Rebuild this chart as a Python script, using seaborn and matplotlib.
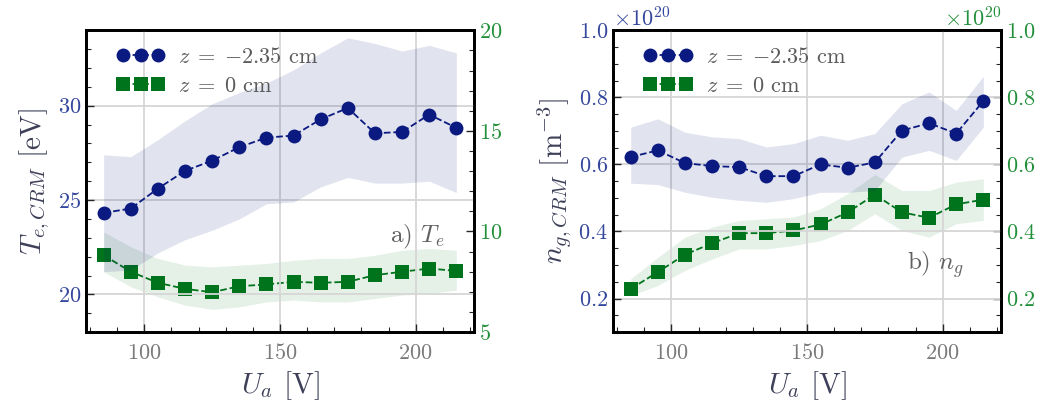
import numpy as np
import matplotlib
matplotlib.use('Agg')
import matplotlib.pyplot as plt
from matplotlib.ticker import MultipleLocator
import seaborn as sns

# anode voltage
Ua = [85, 95, 105, 115, 125, 135, 145, 155, 165, 175, 185, 195, 205, 215]

# a) electron temperature [eV]
te_z235 = [24.32, 24.55, 25.61, 26.55, 27.09, 27.80, 28.31, 28.42, 29.28, 29.88, 28.54, 28.61, 29.53, 28.83]
te_z235_hi = [27.4, 27.3, 28.2, 29.2, 30.1, 30.7, 31.2, 31.9, 32.8, 33.6, 33.3, 32.9, 33.2, 32.8]
te_z235_lo = [21.2, 21.3, 22.2, 22.9, 23.4, 24.0, 24.8, 24.9, 25.7, 26.2, 25.9, 25.9, 26.0, 25.4]
te_z0 = [8.82, 8.00, 7.45, 7.15, 6.98, 7.28, 7.37, 7.50, 7.45, 7.50, 7.83, 8.00, 8.16, 8.04]
te_z0_hi = [9.98, 9.24, 8.66, 8.33, 8.24, 8.33, 8.41, 8.57, 8.66, 8.66, 8.82, 9.07, 9.16, 9.07]
te_z0_lo = [8.00, 7.25, 6.75, 6.34, 6.13, 6.25, 6.50, 6.59, 6.50, 6.50, 6.67, 6.84, 6.92, 7.08]

# b) neutral density [1e20 m^-3]
ng_z235 = [0.622, 0.642, 0.604, 0.595, 0.592, 0.565, 0.565, 0.600, 0.590, 0.606, 0.701, 0.723, 0.692, 0.789]
ng_z235_hi = [0.711, 0.736, 0.696, 0.682, 0.677, 0.652, 0.662, 0.687, 0.672, 0.692, 0.781, 0.816, 0.761, 0.863]
ng_z235_lo = [0.544, 0.540, 0.517, 0.502, 0.493, 0.487, 0.498, 0.517, 0.517, 0.522, 0.622, 0.642, 0.612, 0.711]
ng_z0 = [0.229, 0.279, 0.331, 0.365, 0.395, 0.395, 0.403, 0.421, 0.457, 0.510, 0.457, 0.441, 0.481, 0.495]
ng_z0_hi = [0.259, 0.323, 0.383, 0.413, 0.433, 0.438, 0.443, 0.468, 0.513, 0.570, 0.522, 0.522, 0.547, 0.557]
ng_z0_lo = [0.209, 0.239, 0.284, 0.318, 0.348, 0.348, 0.358, 0.373, 0.403, 0.453, 0.403, 0.383, 0.423, 0.433]

blue = '#0b1a80'
green = '#00741c'
blue_tick = '#34479c'
green_tick = '#22903a'
label_col = '#3d4058'

sns.set_style('whitegrid')
plt.rcParams.update({
    'font.family': 'serif',
    'font.serif': ['cmr10'],
    'mathtext.fontset': 'cm',
    'axes.unicode_minus': False,
    'axes.formatter.use_mathtext': True,
    'grid.color': '#d6d6d6',
    'grid.linewidth': 1.3,
})

fig = plt.figure(figsize=(10.57, 4.09), dpi=100)
ax1 = fig.add_axes([0.0814, 0.188, 0.367, 0.738])
ax2 = fig.add_axes([0.58, 0.188, 0.367, 0.738])


def draw(ax, y1, y1lo, y1hi, y2, y2lo, y2hi, scale):
    axr = ax.twinx()
    y1 = np.array(y1) * scale
    y2 = np.array(y2) * scale
    ax.fill_between(Ua, np.array(y1lo) * scale, np.array(y1hi) * scale, color=blue, alpha=0.12, lw=0)
    sns.lineplot(x=Ua, y=y1, ax=ax, color=blue, marker='o', markersize=10, markeredgewidth=0,
                 linestyle='--', lw=1.3, label=r'$z\;=\;{-}2.35$ cm', legend=False)
    axr.fill_between(Ua, np.array(y2lo) * scale, np.array(y2hi) * scale, color=green, alpha=0.1, lw=0)
    sns.lineplot(x=Ua, y=y2, ax=axr, color=green, marker='s', markersize=9.5, markeredgewidth=0,
                 linestyle='--', lw=1.3, label=r'$z\;=\;0$ cm', legend=False)
    axr.grid(False)
    ax.set_xlim(78.5, 221.5)
    ax.xaxis.set_major_locator(MultipleLocator(50))
    ax.xaxis.set_minor_locator(MultipleLocator(10))
    for a in (ax, axr):
        for s in a.spines.values():
            s.set_color('black')
            s.set_linewidth(2)
        a.tick_params(which='both', direction='in', labelsize=16)
        a.tick_params(which='major', length=6, width=1)
        a.tick_params(which='minor', length=3.5, width=0.8)
    ax.tick_params(axis='x', which='both', bottom=True, labelcolor='#7a7a7a', pad=8)
    ax.tick_params(axis='y', which='both', left=True, labelcolor=blue_tick)
    axr.tick_params(axis='y', which='both', right=True, labelcolor=green_tick)
    ax.set_xlabel(r'$U_a$ [V]', fontsize=21, color=label_col)
    h1, l1 = ax.get_legend_handles_labels()
    h2, l2 = axr.get_legend_handles_labels()
    leg = ax.legend(h1 + h2, l1 + l2, loc='upper left', frameon=False, numpoints=3,
                    fontsize=16, handlelength=2.2, handletextpad=0.6, labelspacing=0.45,
                    borderaxespad=0, bbox_to_anchor=(0.055, 0.975))
    for t in leg.get_texts():
        t.set_color('#5a5a5a')
    for h in leg.legend_handles:
        h.set_linestyle('--')
    ax.set_zorder(axr.get_zorder() + 1)
    ax.patch.set_visible(False)
    return axr


ax1r = draw(ax1, te_z235, te_z235_lo, te_z235_hi, te_z0, te_z0_lo, te_z0_hi, 1.0)
ax1.set_ylim(18, 34)
ax1.yaxis.set_major_locator(MultipleLocator(5))
ax1.yaxis.set_minor_locator(MultipleLocator(1))
ax1r.set_ylim(5, 20)
ax1r.yaxis.set_major_locator(MultipleLocator(5))
ax1r.yaxis.set_minor_locator(MultipleLocator(1))
ax1.set_ylabel(r'$T_{e,CRM}$ [eV]', fontsize=21, color=label_col, labelpad=4)
ax1.text(0.925, 0.315, r'a) $T_e$', transform=ax1.transAxes, ha='right', va='center',
         fontsize=18, color='#606060')

ax2r = draw(ax2, ng_z235, ng_z235_lo, ng_z235_hi, ng_z0, ng_z0_lo, ng_z0_hi, 1e20)
for a, c in ((ax2, blue_tick), (ax2r, green_tick)):
    a.set_ylim(0.1e20, 1.0e20)
    a.yaxis.set_major_locator(MultipleLocator(0.2e20))
    a.yaxis.set_minor_locator(MultipleLocator(0.05e20))
    a.ticklabel_format(axis='y', style='sci', scilimits=(20, 20), useMathText=True)
    a.yaxis.get_offset_text().set_fontsize(16)
    a.yaxis.get_offset_text().set_color(c)
ax2.set_ylabel(r'$n_{g,CRM}$ [m$^{-3}$]', fontsize=21, color=label_col, labelpad=4)
ax2.text(0.905, 0.222, r'b) $n_g$', transform=ax2.transAxes, ha='right', va='center',
         fontsize=18, color='#606060')

fig.savefig('out.png', dpi=100)
